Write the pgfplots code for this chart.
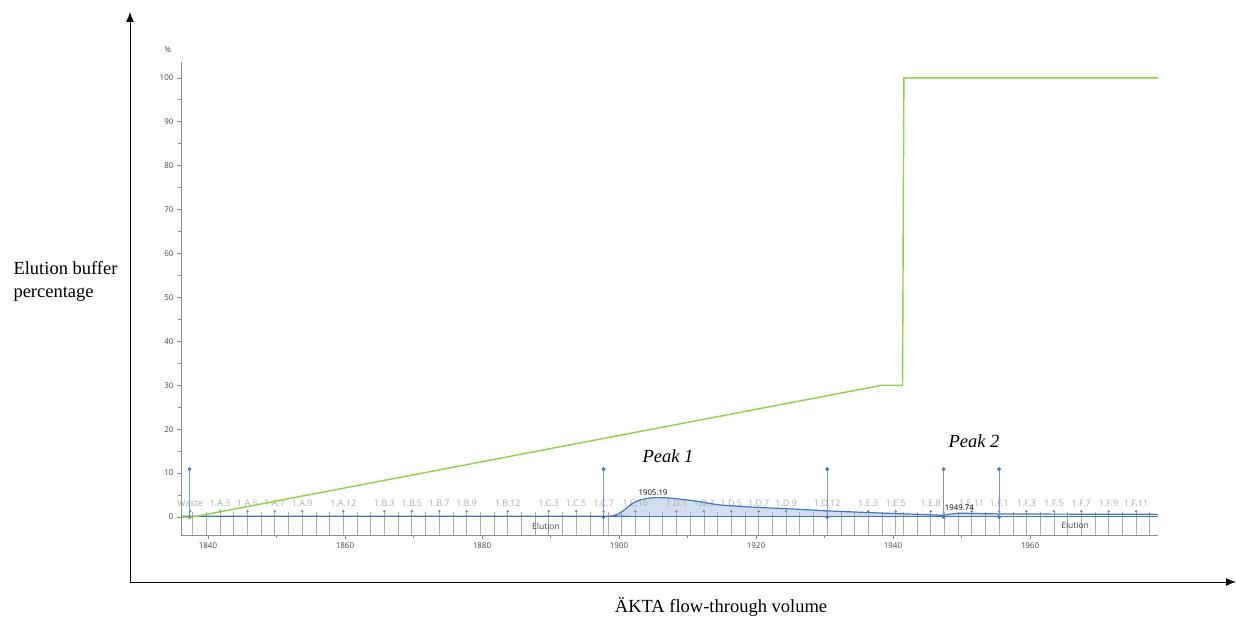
\documentclass[border=0pt]{standalone}
\usepackage{fontspec}
\setmainfont{Liberation Serif}
\newfontfamily\uifont{Open Sans}
\usepackage{pgfplots}
\pgfplotsset{compat=1.18}
\usetikzlibrary{arrows.meta}
\definecolor{gradgreen}{RGB}{146,206,70}
\definecolor{uvblue}{RGB}{68,118,190}
\definecolor{evblue}{RGB}{110,155,215}
\definecolor{fillblue}{RGB}{210,222,240}
\definecolor{fracgray}{RGB}{172,172,172}
\definecolor{markgray}{RGB}{140,140,140}
\definecolor{axgray}{RGB}{140,140,140}
\definecolor{txtgray}{RGB}{70,70,70}
\begin{document}
\begin{tikzpicture}
\useasboundingbox (0,0) rectangle (1236pt,618pt);
% outer schematic axes
\begin{axis}[at={(130pt,36pt)}, anchor=south west, scale only axis,
  width=1106pt, height=570pt, xmin=0, xmax=1, ymin=0, ymax=1,
  hide axis, clip=false]
  \addplot[draw=none, forget plot] coordinates {(0,0) (1,1)};
  \draw[black, line width=1pt, -{Latex[length=10pt,width=8pt]}] (axis cs:0,0) -- (axis cs:1,0);
  \draw[black, line width=1pt, -{Latex[length=10pt,width=8pt]}] (axis cs:0,0) -- (axis cs:0,1);
  \node[anchor=west, align=left, font=\fontsize{18.5}{23}\selectfont] at (axis description cs:-0.1085,0.528) {Elution buffer\\percentage};
  \node[font=\fontsize{18.5}{22}\selectfont] at (axis description cs:0.5344,-0.0447) {ÄKTA flow-through volume};
\end{axis}
% chromatogram
\begin{axis}[at={(181pt,83pt)}, anchor=south west, scale only axis,
  width=977pt, height=473pt,
  xmin=1836.06, xmax=1978.7, ymin=-4.1, ymax=103.6,
  clip mode=individual,
  axis x line=bottom, axis y line=left,
  axis line style={axgray, line width=0.8pt, -},
  xtick={1840,1860,1880,1900,1920,1940,1960},
  ytick={0,10,20,30,40,50,60,70,80,90,100},
  minor x tick num=1, minor y tick num=1,
  tick align=outside, major tick length=4pt, minor tick length=3pt,
  tick style={axgray, line width=0.6pt},
  /pgf/number format/1000 sep={},
  /pgf/number format/assume math mode=true,
  tick label style={font=\uifont\fontsize{8}{9}\selectfont, text=txtgray},
  ]
  % peak area fill
  \addplot[fill=fillblue, draw=none, smooth, tension=0.5, forget plot] coordinates {
  (1897.8,0)(1897.8,0.15)(1898.5,0.2)(1899.3,0.35)(1899.9,0.7)(1900.6,1.4)
  (1901.3,2.3)(1902.0,3.1)(1902.8,3.7)(1903.8,4.15)(1905.2,4.4)(1907,4.35)
  (1909,4.05)(1911.3,3.6)(1913,3.15)(1915,2.7)(1918,2.4)(1920,2.2)(1925,1.85)
  (1930.4,1.4)(1935,1.1)(1940,0.8)(1945.5,0.5)(1947.4,0.4)(1948.4,0.65)
  (1949.7,0.85)(1952,0.8)(1955.5,0.7)(1955.5,0)
  } \closedcycle;
  % fraction marks
  \addplot[fracgray, line width=0.6pt, unbounded coords=jump, forget plot] coordinates {
  (1837.75,-4.1)(1837.75,1.2)(1837.75,nan)
  (1839.75,-4.1)(1839.75,1.2)(1839.75,nan)
  (1841.75,-4.1)(1841.75,1.2)(1841.75,nan)
  (1843.75,-4.1)(1843.75,1.2)(1843.75,nan)
  (1845.75,-4.1)(1845.75,1.2)(1845.75,nan)
  (1847.75,-4.1)(1847.75,1.2)(1847.75,nan)
  (1849.75,-4.1)(1849.75,1.2)(1849.75,nan)
  (1851.75,-4.1)(1851.75,1.2)(1851.75,nan)
  (1853.75,-4.1)(1853.75,1.2)(1853.75,nan)
  (1855.75,-4.1)(1855.75,1.2)(1855.75,nan)
  (1857.75,-4.1)(1857.75,1.2)(1857.75,nan)
  (1859.75,-4.1)(1859.75,1.2)(1859.75,nan)
  (1861.75,-4.1)(1861.75,1.2)(1861.75,nan)
  (1863.75,-4.1)(1863.75,1.2)(1863.75,nan)
  (1865.75,-4.1)(1865.75,1.2)(1865.75,nan)
  (1867.75,-4.1)(1867.75,1.2)(1867.75,nan)
  (1869.75,-4.1)(1869.75,1.2)(1869.75,nan)
  (1871.75,-4.1)(1871.75,1.2)(1871.75,nan)
  (1873.75,-4.1)(1873.75,1.2)(1873.75,nan)
  (1875.75,-4.1)(1875.75,1.2)(1875.75,nan)
  (1877.75,-4.1)(1877.75,1.2)(1877.75,nan)
  (1879.75,-4.1)(1879.75,1.2)(1879.75,nan)
  (1881.75,-4.1)(1881.75,1.2)(1881.75,nan)
  (1883.75,-4.1)(1883.75,1.2)(1883.75,nan)
  (1885.75,-4.1)(1885.75,1.2)(1885.75,nan)
  (1887.75,-4.1)(1887.75,1.2)(1887.75,nan)
  (1889.75,-4.1)(1889.75,1.2)(1889.75,nan)
  (1891.75,-4.1)(1891.75,1.2)(1891.75,nan)
  (1893.75,-4.1)(1893.75,1.2)(1893.75,nan)
  (1895.75,-4.1)(1895.75,1.2)(1895.75,nan)
  (1897.75,-4.1)(1897.75,1.2)(1897.75,nan)
  (1898.4,-4.1)(1898.4,1.2)(1898.4,nan)
  (1900.4,-4.1)(1900.4,1.2)(1900.4,nan)
  (1902.4,-4.1)(1902.4,1.2)(1902.4,nan)
  (1904.4,-4.1)(1904.4,1.2)(1904.4,nan)
  (1906.4,-4.1)(1906.4,1.2)(1906.4,nan)
  (1908.4,-4.1)(1908.4,1.2)(1908.4,nan)
  (1910.4,-4.1)(1910.4,1.2)(1910.4,nan)
  (1912.4,-4.1)(1912.4,1.2)(1912.4,nan)
  (1914.4,-4.1)(1914.4,1.2)(1914.4,nan)
  (1916.4,-4.1)(1916.4,1.2)(1916.4,nan)
  (1918.4,-4.1)(1918.4,1.2)(1918.4,nan)
  (1920.4,-4.1)(1920.4,1.2)(1920.4,nan)
  (1922.4,-4.1)(1922.4,1.2)(1922.4,nan)
  (1924.4,-4.1)(1924.4,1.2)(1924.4,nan)
  (1926.4,-4.1)(1926.4,1.2)(1926.4,nan)
  (1928.4,-4.1)(1928.4,1.2)(1928.4,nan)
  (1930.4,-4.1)(1930.4,1.2)(1930.4,nan)
  (1932.4,-4.1)(1932.4,1.2)(1932.4,nan)
  (1934.4,-4.1)(1934.4,1.2)(1934.4,nan)
  (1936.4,-4.1)(1936.4,1.2)(1936.4,nan)
  (1938.4,-4.1)(1938.4,1.2)(1938.4,nan)
  (1940.4,-4.1)(1940.4,1.2)(1940.4,nan)
  (1941.5,-4.1)(1941.5,1.2)(1941.5,nan)
  (1943.5,-4.1)(1943.5,1.2)(1943.5,nan)
  (1945.5,-4.1)(1945.5,1.2)(1945.5,nan)
  (1947.5,-4.1)(1947.5,1.2)(1947.5,nan)
  (1949.5,-4.1)(1949.5,1.2)(1949.5,nan)
  (1951.5,-4.1)(1951.5,1.2)(1951.5,nan)
  (1953.5,-4.1)(1953.5,1.2)(1953.5,nan)
  (1955.5,-4.1)(1955.5,1.2)(1955.5,nan)
  (1957.5,-4.1)(1957.5,1.2)(1957.5,nan)
  (1959.5,-4.1)(1959.5,1.2)(1959.5,nan)
  (1961.5,-4.1)(1961.5,1.2)(1961.5,nan)
  (1963.5,-4.1)(1963.5,1.2)(1963.5,nan)
  (1965.5,-4.1)(1965.5,1.2)(1965.5,nan)
  (1967.5,-4.1)(1967.5,1.2)(1967.5,nan)
  (1969.5,-4.1)(1969.5,1.2)(1969.5,nan)
  (1971.5,-4.1)(1971.5,1.2)(1971.5,nan)
  (1973.5,-4.1)(1973.5,1.2)(1973.5,nan)
  (1975.5,-4.1)(1975.5,1.2)(1975.5,nan)
  (1977.5,-4.1)(1977.5,1.2)
  };
  % fraction labels
  \addplot[only marks, mark=triangle*, mark size=1.3pt, color=markgray,
    nodes near coords, point meta=explicit symbolic,
    every node near coord/.append style={font=\uifont\fontsize{9}{10}\selectfont, text=fracgray, anchor=south, inner sep=0pt, yshift=4pt}] coordinates {
  (1837.4,1.3)[Waste] (1841.75,1.3)[1.A.3] (1845.75,1.3)[1.A.5] (1849.75,1.3)[1.A.7]
  (1853.75,1.3)[1.A.9] (1859.75,1.3)[1.A.12] (1865.75,1.3)[1.B.3] (1869.75,1.3)[1.B.5]
  (1873.75,1.3)[1.B.7] (1877.75,1.3)[1.B.9] (1883.75,1.3)[1.B.12] (1889.75,1.3)[1.C.3]
  (1893.75,1.3)[1.C.5] (1897.75,1.3)[1.C.7] (1902.4,1.3)[1.C.10] (1908.4,1.3)[1.D.1]
  (1912.4,1.3)[1.D.3] (1916.4,1.3)[1.D.5] (1920.4,1.3)[1.D.7] (1924.4,1.3)[1.D.9]
  (1930.4,1.3)[1.D.12] (1936.4,1.3)[1.E.3] (1940.4,1.3)[1.E.5] (1945.5,1.3)[1.E.8]
  (1951.5,1.3)[1.E.11] (1955.5,1.3)[1.F.1] (1959.5,1.3)[1.F.3] (1963.5,1.3)[1.F.5]
  (1967.5,1.3)[1.F.7] (1971.5,1.3)[1.F.9] (1975.5,1.3)[1.F.11]
  };
  % UV baseline and curve
  \addplot[uvblue, line width=1pt] coordinates {(1836.06,0) (1978.7,0)};
  \addplot[uvblue, line width=1.2pt, smooth, tension=0.5] coordinates {
  (1836.06,0.15)(1897.5,0.15)(1898.5,0.2)(1899.3,0.35)(1899.9,0.7)(1900.6,1.4)
  (1901.3,2.3)(1902.0,3.1)(1902.8,3.7)(1903.8,4.15)(1905.2,4.4)(1907,4.35)
  (1909,4.05)(1911.3,3.6)(1913,3.15)(1915,2.7)(1918,2.4)(1920,2.2)(1925,1.85)
  (1930.4,1.4)(1935,1.1)(1940,0.8)(1945.5,0.5)(1947.4,0.4)(1948.4,0.65)
  (1949.7,0.85)(1952,0.8)(1955.5,0.7)(1965,0.65)(1978.7,0.6)
  };
  % event markers
  \addplot[evblue, line width=1pt, unbounded coords=jump, mark=*, mark size=1.4pt,
    mark options={fill=uvblue, draw=uvblue}] coordinates {
  (1837.3,0)(1837.3,10.9)(1837.3,nan)
  (1897.75,0)(1897.75,10.9)(1897.75,nan)
  (1930.4,0)(1930.4,10.9)(1930.4,nan)
  (1947.4,0)(1947.4,10.9)(1947.4,nan)
  (1955.5,0)(1955.5,10.9)
  };
  % gradient
  \addplot[gradgreen, line width=1.4pt] coordinates {
  (1836.06,0)(1837.8,0)(1938.4,30)(1941.4,30)(1941.6,100)(1978.7,100)};
  % annotations
  \node[font=\uifont\fontsize{8}{9}\selectfont, text=txtgray] at (axis description cs:-0.0133,1.0254) {\%};
  \node[font=\uifont\fontsize{7.8}{9}\selectfont, text=black] at (axis cs:1904.97,5.47) {1905.19};
  \node[font=\uifont\fontsize{7.8}{9}\selectfont, text=black] at (axis cs:1949.7,2.05) {1949.74};
  \node[font=\uifont\fontsize{8.5}{10}\selectfont, text=txtgray] at (axis cs:1889.35,-2.05) {Elution};
  \node[font=\uifont\fontsize{8.5}{10}\selectfont, text=txtgray] at (axis cs:1966.6,-1.9) {Elution};
  \node[font=\itshape\fontsize{18.5}{20}\selectfont] at (axis cs:1907.16,13.78) {Peak 1};
  \node[font=\itshape\fontsize{18.5}{20}\selectfont] at (axis cs:1951.83,17.2) {Peak 2};
\end{axis}
\end{tikzpicture}
\end{document}
